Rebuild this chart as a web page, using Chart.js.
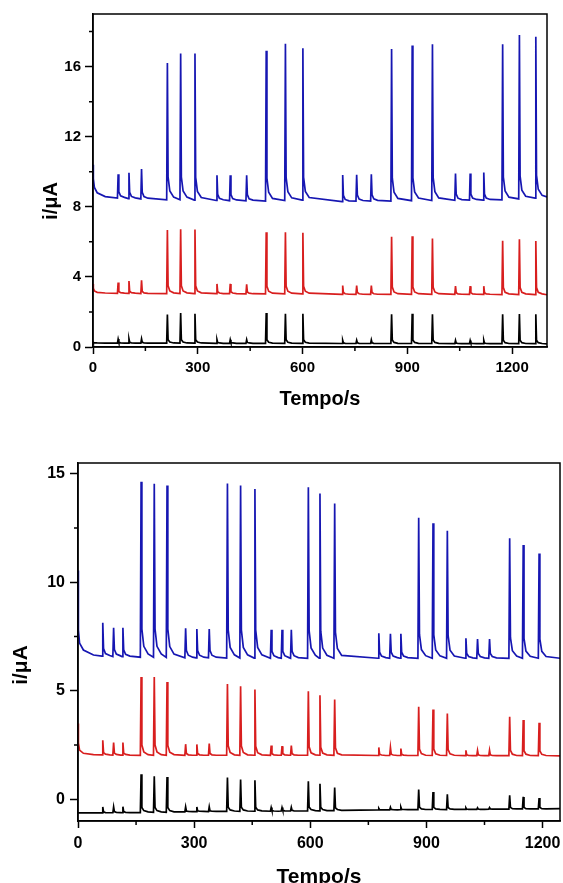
<!DOCTYPE html>
<html>
<head>
<meta charset="utf-8">
<script src="https://cdn.jsdelivr.net/npm/chart.js@4.4.1/dist/chart.umd.min.js"></script>
<style>
  html, body { margin: 0; padding: 0; background: #fff; overflow: hidden; }
  canvas { position: absolute; left: 0; }
  #topChart { top: 0; }
  #bottomChart { top: 420px; }
</style>
</head>
<body>
<canvas id="topChart" width="563" height="420"></canvas>
<canvas id="bottomChart" width="563" height="480"></canvas>
<script>
// ---- Gráfico superior ----
const topTime = [0, 1, 4, 12, 35,
  70, 72, 74, 79, 90,
  101, 103, 105, 110, 121,
  137, 139, 141, 146, 157,
  211, 213, 215, 220, 231,
  249, 251, 253, 258, 269,
  290, 292, 294, 299, 310,
  353, 355, 357, 362, 373,
  391, 393, 395, 400, 411,
  438, 440, 442, 447, 458,
  494, 496, 498, 503, 514,
  549, 551, 553, 558, 569,
  599, 601, 603, 608, 619,
  713, 715, 717, 722, 733,
  753, 755, 757, 762, 773,
  795, 797, 799, 804, 815,
  853, 855, 857, 862, 873,
  912, 914, 916, 921, 932,
  970, 972, 974, 979, 990,
  1036, 1038, 1040, 1045, 1056,
  1078, 1080, 1082, 1087, 1098,
  1117, 1119, 1121, 1126, 1137,
  1171, 1173, 1175, 1180, 1191,
  1219, 1221, 1223, 1228, 1239,
  1266, 1268, 1270, 1275, 1286,
  1300];

const topBlue = [10.4, 9.6, 9.1, 8.8, 8.58,
  8.5, 9.85, 8.85, 8.62, 8.54,
  8.47, 9.94, 8.82, 8.59, 8.51,
  8.45, 10.15, 8.82, 8.58, 8.49,
  8.4, 16.2, 9.7, 8.9, 8.55,
  8.4, 16.75, 9.7, 8.9, 8.55,
  8.38, 16.75, 9.68, 8.88, 8.53,
  8.36, 9.8, 8.71, 8.48, 8.4,
  8.35, 9.8, 8.7, 8.47, 8.39,
  8.34, 9.8, 8.69, 8.46, 8.38,
  8.33, 16.9, 9.63, 8.83, 8.48,
  8.36, 17.3, 9.66, 8.86, 8.51,
  8.38, 17.05, 9.68, 8.88, 8.53,
  8.3, 9.81, 8.65, 8.42, 8.34,
  8.32, 9.82, 8.67, 8.44, 8.36,
  8.33, 9.86, 8.68, 8.45, 8.37,
  8.33, 17.0, 9.63, 8.83, 8.48,
  8.35, 17.2, 9.65, 8.85, 8.5,
  8.36, 17.28, 9.66, 8.86, 8.51,
  8.37, 9.9, 8.72, 8.49, 8.41,
  8.38, 9.9, 8.73, 8.5, 8.42,
  8.38, 9.96, 8.73, 8.5, 8.42,
  8.4, 17.28, 9.7, 8.9, 8.55,
  8.45, 17.8, 9.75, 8.95, 8.6,
  8.5, 17.7, 9.8, 9.0, 8.65,
  8.56];

const topRed = [3.6, 3.35, 3.2, 3.12, 3.08,
  3.06, 3.68, 3.17, 3.1, 3.07,
  3.06, 3.76, 3.18, 3.1, 3.07,
  3.05, 3.81, 3.18, 3.09, 3.06,
  3.05, 6.67, 3.5, 3.2, 3.09,
  3.05, 6.72, 3.5, 3.2, 3.09,
  3.05, 6.7, 3.5, 3.2, 3.09,
  3.04, 3.6, 3.15, 3.08, 3.05,
  3.04, 3.6, 3.15, 3.08, 3.05,
  3.03, 3.58, 3.14, 3.07, 3.04,
  3.03, 6.55, 3.47, 3.18, 3.07,
  3.03, 6.55, 3.47, 3.18, 3.07,
  3.03, 6.52, 3.47, 3.18, 3.07,
  3.0, 3.51, 3.11, 3.04, 3.01,
  3.0, 3.51, 3.11, 3.04, 3.01,
  3.0, 3.51, 3.11, 3.04, 3.01,
  3.0, 6.29, 3.42, 3.14, 3.04,
  3.0, 6.32, 3.42, 3.14, 3.04,
  3.0, 6.19, 3.41, 3.14, 3.04,
  3.0, 3.47, 3.1, 3.03, 3.01,
  3.0, 3.47, 3.1, 3.03, 3.01,
  3.0, 3.47, 3.1, 3.03, 3.01,
  2.99, 6.06, 3.39, 3.12, 3.03,
  2.99, 6.15, 3.39, 3.12, 3.03,
  2.99, 6.05, 3.39, 3.12, 3.03,
  2.98];

const topBlack = [0.3, 0.26, 0.24, 0.23, 0.22,
  0.22, 0.45, 0.27, 0.24, 0.22,
  0.22, 0.46, 0.27, 0.24, 0.22,
  0.22, 0.46, 0.27, 0.24, 0.22,
  0.22, 1.85, 0.42, 0.28, 0.23,
  0.22, 1.94, 0.42, 0.28, 0.23,
  0.22, 1.9, 0.42, 0.28, 0.23,
  0.21, 0.42, 0.26, 0.23, 0.21,
  0.21, 0.42, 0.26, 0.23, 0.21,
  0.21, 0.42, 0.26, 0.23, 0.21,
  0.21, 1.94, 0.41, 0.27, 0.22,
  0.21, 1.9, 0.41, 0.27, 0.22,
  0.21, 1.9, 0.41, 0.27, 0.22,
  0.2, 0.38, 0.24, 0.21, 0.2,
  0.2, 0.38, 0.24, 0.21, 0.2,
  0.2, 0.4, 0.24, 0.21, 0.2,
  0.2, 1.87, 0.4, 0.26, 0.21,
  0.2, 1.9, 0.4, 0.26, 0.21,
  0.2, 1.87, 0.4, 0.26, 0.21,
  0.19, 0.38, 0.23, 0.2, 0.19,
  0.19, 0.37, 0.23, 0.2, 0.19,
  0.19, 0.38, 0.23, 0.2, 0.19,
  0.19, 1.87, 0.39, 0.25, 0.2,
  0.19, 1.88, 0.39, 0.25, 0.2,
  0.19, 1.87, 0.39, 0.25, 0.2,
  0.18];

const topXTicks = [0, 300, 600, 900, 1200];
const topXMinor = [150, 450, 750, 1050];
const topYTicks = [0, 4, 8, 12, 16];
const topYMinor = [2, 6, 10, 14, 18];

// ---- Gráfico inferior ----
const bottomTime = [0, 1, 4, 14, 40,
  62, 64, 66, 71, 82,
  90, 92, 94, 99, 110,
  114, 116, 118, 123, 134,
  161, 163, 165, 170, 181,
  195, 197, 199, 204, 215,
  228, 230, 232, 237, 248,
  276, 278, 280, 285, 296,
  305, 307, 309, 314, 325,
  337, 339, 341, 346, 357,
  384, 386, 388, 393, 404,
  418, 420, 422, 427, 438,
  455, 457, 459, 464, 475,
  497, 499, 501, 506, 517,
  525, 527, 529, 534, 545,
  549, 551, 553, 558, 569,
  593, 595, 597, 602, 613,
  623, 625, 627, 632, 643,
  661, 663, 665, 670, 681,
  775, 777, 779, 784, 795,
  805, 807, 809, 814, 825,
  832, 834, 836, 841, 852,
  878, 880, 882, 887, 898,
  915, 917, 919, 924, 935,
  952, 954, 956, 961, 972,
  1000, 1002, 1004, 1009, 1020,
  1030, 1032, 1034, 1039, 1050,
  1061, 1063, 1065, 1070, 1081,
  1113, 1115, 1117, 1122, 1133,
  1148, 1150, 1152, 1157, 1168,
  1189, 1191, 1193, 1198, 1209,
  1245];

const bottomBlue = [10.55, 7.8, 7.2, 6.88, 6.65,
  6.6, 8.14, 6.95, 6.72, 6.63,
  6.58, 7.91, 6.9, 6.69, 6.61,
  6.57, 7.91, 6.89, 6.68, 6.6,
  6.55, 14.64, 7.85, 7.05, 6.7,
  6.55, 14.54, 7.85, 7.05, 6.7,
  6.54, 14.46, 7.84, 7.04, 6.69,
  6.52, 7.88, 6.85, 6.64, 6.55,
  6.52, 7.85, 6.85, 6.64, 6.55,
  6.52, 7.85, 6.85, 6.64, 6.55,
  6.51, 14.56, 7.8, 7.0, 6.66,
  6.51, 14.46, 7.8, 7.0, 6.66,
  6.51, 14.3, 7.8, 7.0, 6.66,
  6.5, 7.81, 6.82, 6.62, 6.53,
  6.5, 7.81, 6.82, 6.62, 6.53,
  6.5, 7.81, 6.82, 6.62, 6.53,
  6.5, 14.38, 7.78, 6.98, 6.64,
  6.5, 14.09, 7.75, 6.97, 6.64,
  6.5, 13.63, 7.7, 6.95, 6.63,
  6.5, 7.65, 6.78, 6.6, 6.53,
  6.5, 7.63, 6.78, 6.6, 6.53,
  6.5, 7.63, 6.78, 6.6, 6.53,
  6.5, 12.98, 7.6, 6.9, 6.62,
  6.5, 12.72, 7.58, 6.88, 6.61,
  6.5, 12.38, 7.55, 6.87, 6.6,
  6.5, 7.42, 6.72, 6.58, 6.52,
  6.5, 7.39, 6.72, 6.58, 6.52,
  6.5, 7.39, 6.72, 6.58, 6.52,
  6.5, 12.03, 7.45, 6.85, 6.6,
  6.5, 11.72, 7.42, 6.83, 6.59,
  6.5, 11.33, 7.38, 6.82, 6.58,
  6.5];

const bottomRed = [3.49, 2.6, 2.27, 2.12, 2.06,
  2.05, 2.72, 2.15, 2.08, 2.05,
  2.04, 2.62, 2.13, 2.07, 2.04,
  2.04, 2.62, 2.13, 2.07, 2.04,
  2.03, 5.64, 2.5, 2.18, 2.06,
  2.03, 5.64, 2.5, 2.18, 2.06,
  2.03, 5.41, 2.48, 2.17, 2.06,
  2.03, 2.54, 2.11, 2.05, 2.03,
  2.03, 2.53, 2.11, 2.05, 2.03,
  2.03, 2.57, 2.11, 2.05, 2.03,
  2.03, 5.31, 2.47, 2.16, 2.05,
  2.03, 5.21, 2.46, 2.16, 2.05,
  2.03, 5.06, 2.44, 2.15, 2.05,
  2.03, 2.48, 2.1, 2.05, 2.03,
  2.03, 2.45, 2.1, 2.05, 2.03,
  2.03, 2.48, 2.1, 2.05, 2.03,
  2.03, 4.98, 2.42, 2.14, 2.05,
  2.03, 4.8, 2.4, 2.13, 2.05,
  2.03, 4.6, 2.37, 2.12, 2.05,
  2.02, 2.39, 2.08, 2.04, 2.02,
  2.02, 2.39, 2.08, 2.04, 2.02,
  2.02, 2.34, 2.07, 2.04, 2.02,
  2.02, 4.26, 2.32, 2.11, 2.03,
  2.02, 4.14, 2.31, 2.1, 2.03,
  2.02, 3.95, 2.29, 2.1, 2.03,
  2.01, 2.26, 2.05, 2.02, 2.01,
  2.01, 2.25, 2.05, 2.02, 2.01,
  2.01, 2.26, 2.05, 2.02, 2.01,
  2.01, 3.8, 2.26, 2.08, 2.02,
  2.01, 3.65, 2.24, 2.08, 2.02,
  2.01, 3.53, 2.23, 2.07, 2.02,
  2.0];

const bottomBlack = [-0.63, -0.63, -0.63, -0.63, -0.63,
  -0.63, -0.35, -0.58, -0.61, -0.62,
  -0.62, -0.35, -0.57, -0.6, -0.61,
  -0.62, -0.34, -0.57, -0.6, -0.61,
  -0.61, 1.15, -0.38, -0.52, -0.58,
  -0.6, 1.06, -0.38, -0.52, -0.58,
  -0.6, 1.03, -0.38, -0.52, -0.58,
  -0.58, -0.35, -0.54, -0.56, -0.57,
  -0.57, -0.35, -0.53, -0.55, -0.56,
  -0.57, -0.34, -0.53, -0.55, -0.56,
  -0.56, 1.0, -0.36, -0.49, -0.54,
  -0.56, 0.91, -0.37, -0.49, -0.54,
  -0.55, 0.88, -0.37, -0.49, -0.53,
  -0.55, -0.38, -0.52, -0.54, -0.55,
  -0.54, -0.38, -0.51, -0.53, -0.54,
  -0.54, -0.37, -0.51, -0.53, -0.54,
  -0.53, 0.83, -0.36, -0.47, -0.52,
  -0.53, 0.72, -0.37, -0.47, -0.52,
  -0.52, 0.54, -0.39, -0.47, -0.51,
  -0.49, -0.42, -0.48, -0.49, -0.49,
  -0.49, -0.37, -0.47, -0.48, -0.49,
  -0.48, -0.36, -0.46, -0.47, -0.48,
  -0.48, 0.45, -0.36, -0.44, -0.47,
  -0.47, 0.34, -0.37, -0.44, -0.46,
  -0.47, 0.23, -0.38, -0.44, -0.46,
  -0.46, -0.39, -0.45, -0.46, -0.46,
  -0.46, -0.39, -0.45, -0.46, -0.46,
  -0.45, -0.38, -0.44, -0.45, -0.45,
  -0.45, 0.18, -0.37, -0.43, -0.44,
  -0.44, 0.11, -0.37, -0.43, -0.44,
  -0.44, 0.06, -0.37, -0.43, -0.44,
  -0.43];

const bottomXTicks = [0, 300, 600, 900, 1200];
const bottomXMinor = [150, 450, 750, 1050];
const bottomYTicks = [0, 5, 10, 15];
const bottomYMinor = [2.5, 7.5, 12.5];

const BLUE = '#1616b2';
const RED = '#d81e1e';
const BLACK = '#000000';
const FONT = 'Arial, "Liberation Sans", Helvetica, sans-serif';

// Marco completo, ticks menores y título del eje Y
const framePlugin = {
    id: 'frame',
    afterDraw(chart, args, opts) {
        const { ctx, chartArea: a, scales } = chart;
        ctx.save();
        ctx.strokeStyle = '#000';
        ctx.lineWidth = 1.5;
        ctx.strokeRect(a.left, a.top, a.right - a.left, a.bottom - a.top);
        // ticks menores
        ctx.beginPath();
        (opts.xMinor || []).forEach(v => {
            const px = scales.x.getPixelForValue(v);
            ctx.moveTo(px, a.bottom);
            ctx.lineTo(px, a.bottom + 4);
        });
        (opts.yMinor || []).forEach(v => {
            const py = scales.y.getPixelForValue(v);
            ctx.moveTo(a.left - 4, py);
            ctx.lineTo(a.left, py);
        });
        ctx.stroke();
        // título del eje Y
        ctx.translate(opts.titleX, opts.titleY);
        ctx.rotate(-Math.PI / 2);
        ctx.fillStyle = '#000';
        ctx.font = 'bold ' + opts.titleSize + 'px ' + FONT;
        ctx.textAlign = 'center';
        ctx.textBaseline = 'middle';
        ctx.fillText(opts.title, 0, 0);
        ctx.restore();
    }
};

const toPoints = (xs, ys) => xs.map((x, i) => ({ x: x, y: ys[i] }));

const makeDataset = (xs, ys, color) => ({
    data: toPoints(xs, ys),
    borderColor: color,
    borderWidth: 1.7,
    pointRadius: 0,
    tension: 0,
    fill: false
});

const createChart = (canvasId, cfg) => {
    const ctx = document.getElementById(canvasId);
    return new Chart(ctx, {
        type: 'line',
        data: {
            datasets: [
                makeDataset(cfg.time, cfg.black, BLACK),
                makeDataset(cfg.time, cfg.red, RED),
                makeDataset(cfg.time, cfg.blue, BLUE)
            ]
        },
        options: {
            responsive: false,
            animation: false,
            layout: { padding: cfg.padding },
            plugins: {
                legend: { display: false },
                tooltip: { enabled: false },
                frame: cfg.frame
            },
            scales: {
                x: {
                    type: 'linear',
                    min: cfg.xMin,
                    max: cfg.xMax,
                    afterBuildTicks: (scale) => { scale.ticks = cfg.xTicks.map(v => ({ value: v })); },
                    afterFit: (scale) => {
                        scale.height = cfg.xHeight;
                        scale.paddingLeft = 0;
                        scale.paddingRight = 0;
                    },
                    grid: { drawOnChartArea: false, tickLength: 7, tickWidth: 1.5, tickColor: '#000' },
                    border: { display: true, color: '#000', width: 1.5 },
                    ticks: {
                        color: '#000',
                        padding: cfg.xTickPad,
                        maxRotation: 0,
                        callback: (v) => String(v),
                        font: { family: FONT, size: cfg.tickSize, weight: 'bold' }
                    },
                    title: {
                        display: true,
                        text: 'Tempo/s',
                        color: '#000',
                        padding: { top: 0, bottom: cfg.xTitlePad },
                        font: { family: FONT, size: cfg.titleSize, weight: 'bold' }
                    }
                },
                y: {
                    type: 'linear',
                    min: cfg.yMin,
                    max: cfg.yMax,
                    afterBuildTicks: (scale) => { scale.ticks = cfg.yTicks.map(v => ({ value: v })); },
                    afterFit: (scale) => { scale.width = cfg.yWidth; },
                    grid: { drawOnChartArea: false, tickLength: 8, tickWidth: 1.5, tickColor: '#000' },
                    border: { display: true, color: '#000', width: 1.5 },
                    ticks: {
                        color: '#000',
                        padding: cfg.yTickPad,
                        callback: (v) => String(v),
                        font: { family: FONT, size: cfg.tickSize, weight: 'bold' }
                    }
                }
            }
        },
        plugins: [framePlugin]
    });
};

// Inicialización
createChart('topChart', {
    time: topTime, blue: topBlue, red: topRed, black: topBlack,
    xMin: 0, xMax: 1300, yMin: 0, yMax: 19,
    xTicks: topXTicks, yTicks: topYTicks,
    padding: { top: 14, right: 16, left: 0, bottom: 0 },
    xHeight: 73, yWidth: 93, yTickPad: 4, xTickPad: 5, xTitlePad: 9,
    tickSize: 15, titleSize: 20,
    frame: { xMinor: topXMinor, yMinor: topYMinor, title: 'i/μA', titleX: 51, titleY: 201, titleSize: 20 }
});

createChart('bottomChart', {
    time: bottomTime, blue: bottomBlue, red: bottomRed, black: bottomBlack,
    xMin: 0, xMax: 1245, yMin: -1, yMax: 15.5,
    xTicks: bottomXTicks, yTicks: bottomYTicks,
    padding: { top: 43, right: 3, left: 0, bottom: 0 },
    xHeight: 79, yWidth: 78, yTickPad: 5, xTickPad: 6, xTitlePad: 10,
    tickSize: 16, titleSize: 21,
    frame: { xMinor: bottomXMinor, yMinor: bottomYMinor, title: 'i/μA', titleX: 21, titleY: 245, titleSize: 21 }
});
</script>
</body>
</html>
